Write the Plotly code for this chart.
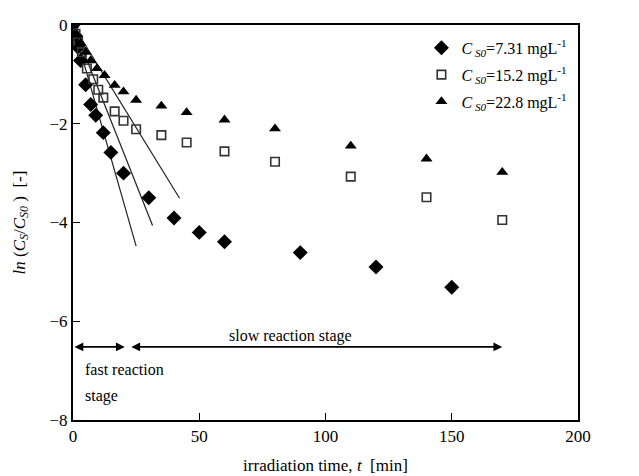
import plotly.graph_objects as go

# ---- data ----
t_731 = [0, 1, 2, 3, 5, 7, 9, 12, 15, 20, 30, 40, 50, 60, 90, 120, 150]
v_731 = [0, -0.22, -0.45, -0.72, -1.21, -1.61, -1.83, -2.18, -2.58, -3.0, -3.5, -3.91, -4.2, -4.39, -4.61, -4.9, -5.31]

t_152 = [0, 1, 2, 3.5, 5.5, 8, 10, 12, 16.5, 20, 25, 35, 45, 60, 80, 110, 140, 170]
v_152 = [0, -0.18, -0.32, -0.55, -0.88, -1.1, -1.31, -1.47, -1.75, -1.94, -2.11, -2.23, -2.38, -2.56, -2.77, -3.07, -3.49, -3.95]

t_228 = [0, 1.5, 3, 5, 7, 9.5, 12.5, 16.5, 20, 25, 35, 45, 60, 80, 110, 140, 170]
v_228 = [0, -0.2, -0.37, -0.55, -0.72, -0.88, -1.02, -1.22, -1.35, -1.52, -1.64, -1.77, -1.92, -2.1, -2.45, -2.71, -2.98]

# fitted lines of the fast stage (start at origin, end point)
fit_end_t = [25, 31.5, 42.2]
fit_end_v = [-4.48, -4.06, -3.51]

# stage arrows
arrow_y = -6.52
fast_stage = [0, 20.5]
slow_stage = [22.5, 170]

series_names = [
    "<i>C</i><sub><i> S0</i></sub>=7.31 mgL<sup>-1</sup>",
    "<i>C</i><sub><i> S0</i></sub>=15.2 mgL<sup>-1</sup>",
    "<i>C</i><sub><i> S0</i></sub>=22.8 mgL<sup>-1</sup>",
]

x_ticks = [0, 50, 100, 150, 200]
y_ticks = [0, -2, -4, -6, -8]

FONT = "Liberation Serif, Times New Roman, serif"

fig = go.Figure()

# fitted lines
for te, ve in zip(fit_end_t, fit_end_v):
    fig.add_trace(go.Scatter(x=[0, te], y=[0, ve], mode="lines",
                             line=dict(color="#222222", width=1.2),
                             showlegend=False, hoverinfo="skip"))

fig.add_trace(go.Scatter(x=t_731, y=v_731, mode="markers", name=series_names[0],
                         legendgroup="a",
                         marker=dict(symbol="diamond", size=11.5, color="black",
                                     line=dict(width=0))))
fig.add_trace(go.Scatter(x=t_152, y=v_152, mode="markers", name=series_names[1],
                         legendgroup="b",
                         marker=dict(symbol="square-open", size=8.5, color="#333333",
                                     line=dict(width=1.6, color="#333333"))))
fig.add_trace(go.Scatter(x=t_228, y=v_228, mode="markers", name=series_names[2],
                         legendgroup="c",
                         marker=dict(symbol="triangle-up", size=10.5, color="black",
                                     line=dict(width=0))))

# stage arrows
for seg in (fast_stage, slow_stage):
    fig.add_annotation(x=seg[1], y=arrow_y, ax=seg[0], ay=arrow_y,
                       xref="x", yref="y", axref="x", ayref="y",
                       showarrow=True, arrowhead=2, arrowside="end+start",
                       arrowsize=1.1, arrowwidth=1.6, arrowcolor="black", text="")

fig.add_annotation(x=86, y=-6.3, xref="x", yref="y", text="slow reaction stage",
                   showarrow=False, font=dict(family=FONT, size=16, color="black"))
fig.add_annotation(x=4, y=-6.98, xref="x", yref="y", text="fast reaction",
                   showarrow=False, xanchor="left",
                   font=dict(family=FONT, size=16, color="black"))
fig.add_annotation(x=4, y=-7.52, xref="x", yref="y", text="stage",
                   showarrow=False, xanchor="left",
                   font=dict(family=FONT, size=16, color="black"))

fig.update_layout(
    width=639, height=476,
    margin=dict(l=65, r=69, t=8, b=64),
    paper_bgcolor="white", plot_bgcolor="white",
    font=dict(family=FONT, size=16, color="black"),
    legend=dict(x=0.69, y=0.985, xanchor="left", yanchor="top",
                bgcolor="rgba(0,0,0,0)", tracegroupgap=3,
                font=dict(family=FONT, size=16, color="black")),
    xaxis=dict(range=[0, 200], tickvals=x_ticks, ticks="inside", ticklen=7,
               tickwidth=1, tickcolor="black",
               showline=True, linecolor="black", linewidth=2, mirror=True,
               showgrid=False, zeroline=False,
               tickfont=dict(family=FONT, size=17),
               title=dict(text="irradiation time, <i>t</i>  [min]",
                          font=dict(family=FONT, size=17), standoff=14)),
    yaxis=dict(range=[-8, 0], tickvals=y_ticks, ticks="inside", ticklen=7,
               tickwidth=1, tickcolor="black",
               showline=True, linecolor="black", linewidth=2, mirror=True,
               showgrid=False, zeroline=False,
               tickfont=dict(family=FONT, size=17),
               title=dict(text="<i>ln</i> (<i>C</i><sub><i>S</i></sub>/<i>C</i><sub><i>S0</i></sub> )  [-]",
                          font=dict(family=FONT, size=17), standoff=20)),
)

fig.write_html("out.html")
